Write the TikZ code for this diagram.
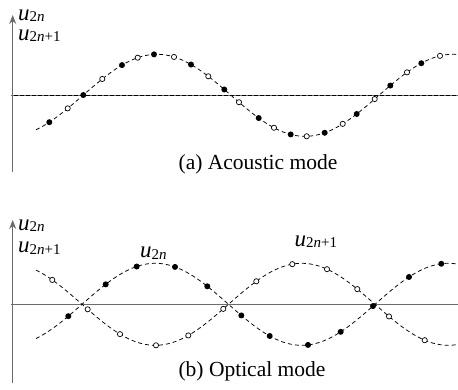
\documentclass[tikz,border=0pt]{standalone}
\usepackage{fontspec}
\setmainfont{Liberation Serif}
\usetikzlibrary{arrows.meta}
\tikzset{
  axisline/.style={draw=black!58, line width=1.3pt},
  axisarrow/.style={axisline, -{Stealth[length=9pt,width=7pt]}},
  wave/.style={dashed, dash pattern=on 4pt off 3pt, line width=0.75pt, samples=300},
  fdot/.style={fill=black},
  odot/.style={draw=black, fill=white, line width=0.7pt},
  lbl/.style={anchor=base west, inner sep=0pt, font=\fontsize{23}{26}\selectfont},
  captext/.style={anchor=base, inner sep=0pt, font=\fontsize{21.5}{26}\selectfont},
}
\newcommand{\uu}[1]{\textit{u}\raisebox{-1.5pt}{\fontsize{15}{18}\selectfont #1}}
\begin{document}
\begin{tikzpicture}[x=1pt,y=-1pt]
\useasboundingbox (0,0) rectangle (458,389);
% ---------- (a) acoustic ----------
\draw[axisline] (11,95.3) -- (458,95.3);
\draw[axisarrow] (12.7,172) -- (12.7,15);
\draw[dashed, dash pattern=on 4pt off 2pt, line width=0.6pt] (14,95.3) -- (458,95.3);
\draw[wave, domain=36:458] plot (\x, {95.3 - 41*sin(1.216216*(\x-83))});
\foreach \px in {49.3,83.3,122,154,191,224.3,258.7,290.7,324.7,356.7,390.3,421.3}
  \fill[fdot] (\px, {95.3 - 41*sin(1.216216*(\px-83))}) circle (3pt);
\foreach \px in {67.7,102.3,137.7,174,208.3,239,274,306.7,342.7,374.7,407,440}
  \filldraw[odot] (\px, {95.3 - 41*sin(1.216216*(\px-83))}) circle (2.6pt);
\node[lbl] (ua1) at (18,20) {\uu{2\textit{n}}};
\node[lbl] (ua2) at (18,40) {\uu{2\textit{n}+1}};
\node[captext] (capa) at (258,169.5) {(a) Acoustic mode};
% ---------- (b) optical ----------
\draw[axisline] (11,304.3) -- (458,304.3);
\draw[axisarrow] (12.7,383) -- (12.7,220);
\draw[wave, domain=36:458] plot (\x, {304.3 - 41*sin(1.228669*(\x-82))});
\draw[wave, domain=36:458] plot (\x, {304.3 + 41*sin(1.228669*(\x-82))});
\foreach \px in {68.3,105.7,136.7,175,207.3,241.3,269.7,308,340.7,373,409,441.3}
  \fill[fdot] (\px, {304.3 - 41*sin(1.228669*(\px-82))}) circle (3pt);
\foreach \px in {52.3,87.7,120,156,188.3,223.3,256.3,292.3,327,357.3,389,424.7}
  \filldraw[odot] (\px, {304.3 + 41*sin(1.228669*(\px-82))}) circle (2.6pt);
\node[lbl] (ub1) at (18,230) {\uu{2\textit{n}}};
\node[lbl] (ub2) at (18,252.5) {\uu{2\textit{n}+1}};
\node[lbl] (uc1) at (140,257.5) {\uu{2\textit{n}}};
\node[lbl] (uc2) at (294.5,246) {\uu{2\textit{n}+1}};
\node[captext] (capb) at (252,376) {(b) Optical mode};
\end{tikzpicture}
\end{document}
